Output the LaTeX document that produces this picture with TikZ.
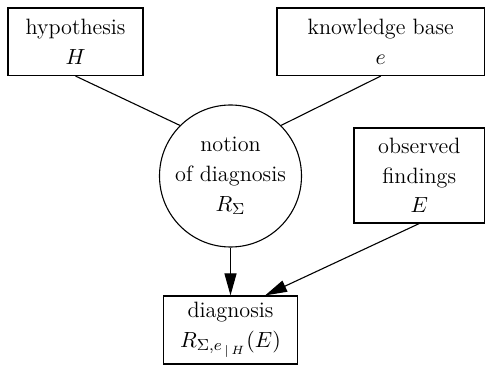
\documentclass[tikz,border=0pt]{standalone}
\usetikzlibrary{arrows.meta}
\begin{document}
\begin{tikzpicture}[x=0.5pt,y=-0.5pt,
  every node/.style={font=\fontsize{11.1}{14.8}\selectfont, align=center, inner sep=0pt, line width=0.55pt},
  boxnode/.style={draw, rectangle},
  circnode/.style={draw, circle, minimum size=71pt},
  conn/.style={line width=0.55pt},
  arr/.style={conn, -{Triangle[length=11pt,width=6pt]}}]
\useasboundingbox (0,0) rectangle (486,368);
\node[boxnode, minimum width=67.5pt, minimum height=33.75pt] (hyp) at (75.5,41.75) {hypothesis\\$H$};
\node[boxnode, minimum width=103.75pt, minimum height=33.75pt] (know) at (380.75,41.75) {knowledge base\\$e$};
\node[circnode] (circ) at (230.5,176) {notion\\of diagnosis\\$R_\Sigma$};
\node[boxnode, minimum width=65.25pt, minimum height=47.5pt] (obs) at (419.25,175.5) {observed\\findings\\$E$};
\node[boxnode, minimum width=67pt, minimum height=34pt] (diag) at (230.5,330) {diagnosis\\$R_{\Sigma,e_{\,|\,H}}(E)$};
\draw[conn] (hyp.south) -- (circ.135);
\draw[conn] (know.south) -- (circ.45);
\draw[arr] (circ.south) -- (diag.north);
\draw[arr] (obs.south) -- (diag.45);
\end{tikzpicture}
\end{document}
